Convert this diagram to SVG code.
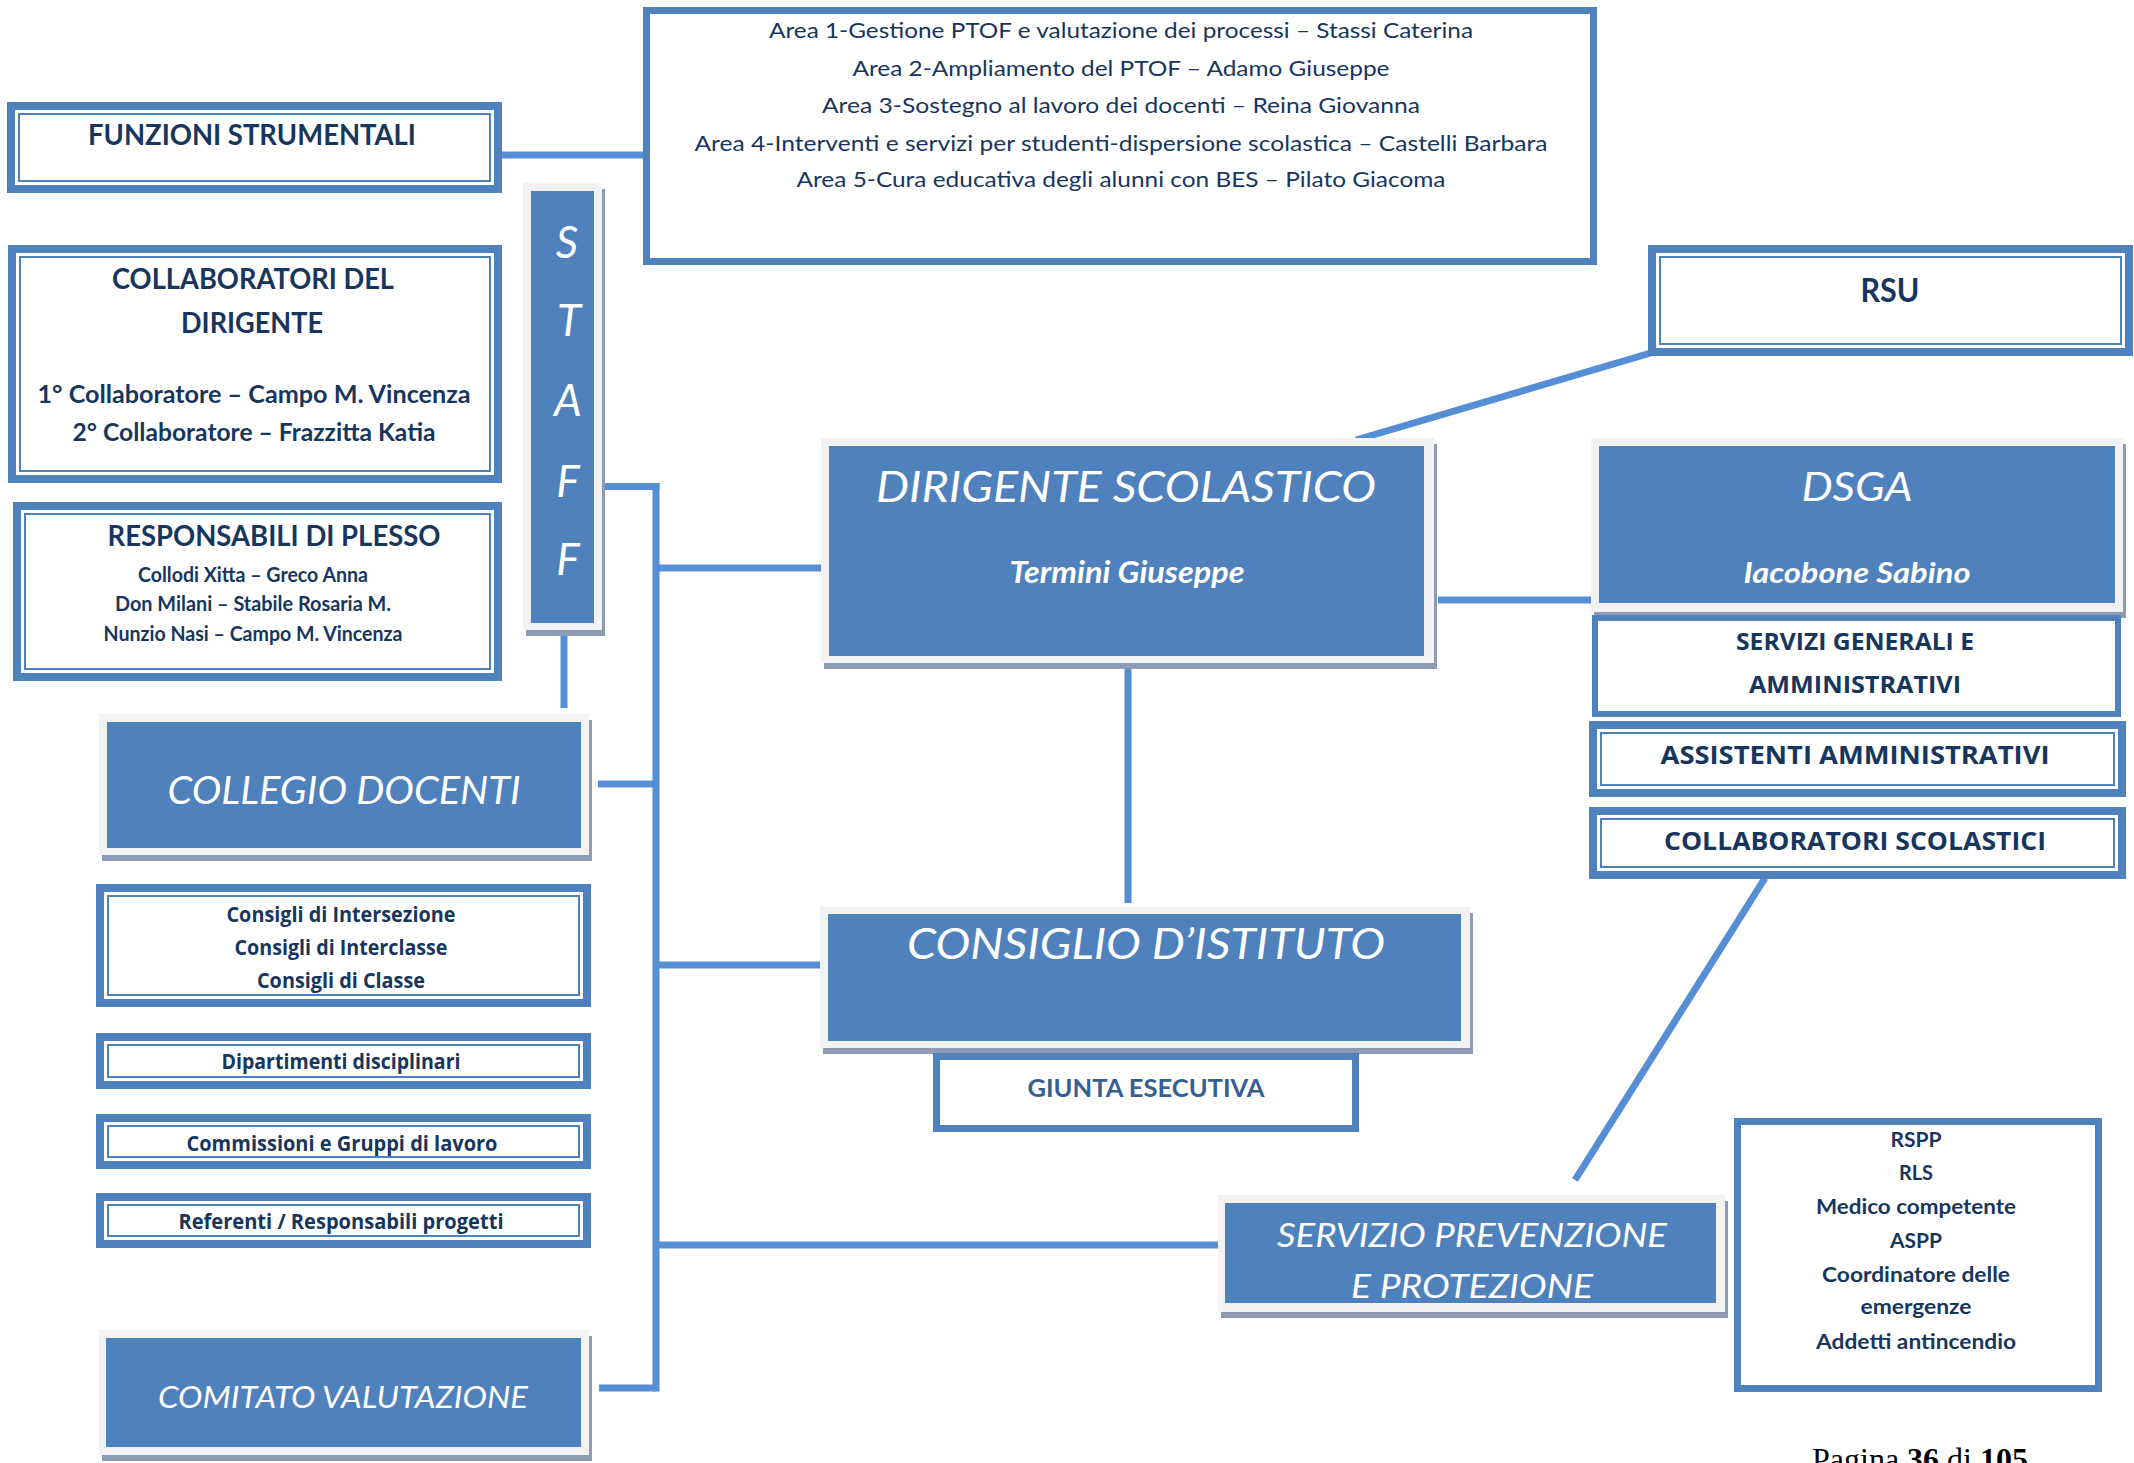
<svg xmlns="http://www.w3.org/2000/svg" width="2134" height="1463" viewBox="0 0 2134 1463">
<style>
.bg{fill:#ffffff}
.ln{stroke:#558ed5;stroke-width:7;fill:none}
.band{fill:#ffffff;stroke:#4f81bd;stroke-width:8}
.band6{fill:#ffffff;stroke:#4f81bd;stroke-width:7}
.thin{fill:none;stroke:#4f81bd;stroke-width:2}
.frame{fill:#f2f2f2}
.shadow{fill:#8d9cb3}
.blue{fill:#4f81bd}
.t{font-family:Lato,"Open Sans",sans-serif;fill:#17365d;text-anchor:middle}
.b{font-weight:bold}
.w{font-family:"Open Sans",Lato,sans-serif;font-weight:bold;fill:#17365d;text-anchor:middle}
.h{font-family:Lato,"DejaVu Sans",sans-serif;font-style:italic;fill:#ffffff;text-anchor:middle}
.bi{font-family:Lato,sans-serif;font-style:italic;font-weight:bold;fill:#ffffff;text-anchor:middle}
</style>
<rect class="bg" x="0" y="0" width="2134" height="1463"/>

<g id="connectors">
  <line class="ln" x1="500" y1="155" x2="646" y2="155"/>
  <line class="ln" x1="1356" y1="440" x2="1654" y2="352" stroke-width="6"/>
  <line class="ln" x1="600" y1="486.5" x2="659.5" y2="486.5"/>
  <line class="ln" x1="656" y1="483" x2="656" y2="1391.5"/>
  <line class="ln" x1="656" y1="568" x2="824" y2="568"/>
  <line class="ln" x1="564" y1="628" x2="564" y2="708"/>
  <line class="ln" x1="598" y1="784" x2="656" y2="784"/>
  <line class="ln" x1="656" y1="965" x2="825" y2="965"/>
  <line class="ln" x1="656" y1="1245" x2="1220" y2="1245"/>
  <line class="ln" x1="599" y1="1388" x2="656" y2="1388"/>
  <line class="ln" x1="1438" y1="600" x2="1594" y2="600"/>
  <line class="ln" x1="1128" y1="656" x2="1128" y2="903"/>
  <line class="ln" x1="1765" y1="878" x2="1575" y2="1180" stroke-width="6"/>
</g>

<g id="aree">
  <rect class="band6" x="646.5" y="10.5" width="947" height="251"/>
  <text class="t" font-size="21" x="1121" y="38" textLength="704" lengthAdjust="spacingAndGlyphs">Area 1-Gestione PTOF e valutazione dei processi – Stassi Caterina</text>
  <text class="t" font-size="21" x="1121" y="76" textLength="537" lengthAdjust="spacingAndGlyphs">Area 2-Ampliamento del PTOF – Adamo Giuseppe</text>
  <text class="t" font-size="21" x="1121" y="113" textLength="598" lengthAdjust="spacingAndGlyphs">Area 3-Sostegno al lavoro dei docenti – Reina Giovanna</text>
  <text class="t" font-size="21" x="1121" y="151" textLength="853" lengthAdjust="spacingAndGlyphs">Area 4-Interventi e servizi per studenti-dispersione scolastica – Castelli Barbara</text>
  <text class="t" font-size="21" x="1121" y="187" textLength="649" lengthAdjust="spacingAndGlyphs">Area 5-Cura educativa degli alunni con BES – Pilato Giacoma</text>
</g>

<g id="funzioni">
  <rect class="band" x="11" y="106" width="487" height="83"/>
  <rect class="thin" x="19" y="114" width="471" height="67"/>
  <text class="t b" font-size="28" x="252" y="145" textLength="328" lengthAdjust="spacingAndGlyphs">FUNZIONI STRUMENTALI</text>
</g>

<g id="collaboratori-dirigente">
  <rect class="band" x="12" y="249" width="486" height="230"/>
  <rect class="thin" x="20" y="257" width="470" height="214"/>
  <text class="t b" font-size="28" x="253" y="289" textLength="282" lengthAdjust="spacingAndGlyphs">COLLABORATORI DEL</text>
  <text class="t b" font-size="28" x="252" y="333" textLength="142" lengthAdjust="spacingAndGlyphs">DIRIGENTE</text>
  <text class="t b" font-size="25" x="254" y="403" textLength="433" lengthAdjust="spacingAndGlyphs">1° Collaboratore – Campo  M. Vincenza</text>
  <text class="t b" font-size="25" x="254" y="441" textLength="363" lengthAdjust="spacingAndGlyphs">2° Collaboratore – Frazzitta Katia</text>
</g>

<g id="responsabili-plesso">
  <rect class="band" x="17" y="506" width="481" height="171"/>
  <rect class="thin" x="25" y="514" width="465" height="155"/>
  <text class="t b" font-size="28" x="274" y="546" textLength="333" lengthAdjust="spacingAndGlyphs">RESPONSABILI DI PLESSO</text>
  <text class="t b" font-size="20" x="253" y="582" textLength="230" lengthAdjust="spacingAndGlyphs">Collodi Xitta – Greco Anna</text>
  <text class="t b" font-size="20" x="253" y="611" textLength="276" lengthAdjust="spacingAndGlyphs">Don Milani – Stabile Rosaria M.</text>
  <text class="t b" font-size="20" x="253" y="641" textLength="299" lengthAdjust="spacingAndGlyphs">Nunzio Nasi – Campo M. Vincenza</text>
</g>

<g id="staff">
  <rect class="shadow" x="526" y="189" width="79" height="447"/>
  <rect class="frame" x="523" y="183" width="79" height="447"/>
  <rect class="blue" x="531" y="191" width="63" height="432"/>
  <text class="h" font-size="44" x="567" y="258">S</text>
  <text class="h" font-size="44" x="569" y="336">T</text>
  <text class="h" font-size="44" x="568" y="416">A</text>
  <text class="h" font-size="44" x="568" y="497">F</text>
  <text class="h" font-size="44" x="568" y="575">F</text>
</g>

<g id="dirigente">
  <rect class="shadow" x="824" y="444" width="613" height="225"/>
  <rect class="frame" x="821" y="438" width="613" height="225"/>
  <rect class="blue" x="829" y="446" width="595" height="210"/>
  <text class="h" font-size="42" x="1126" y="502" textLength="500" lengthAdjust="spacingAndGlyphs">DIRIGENTE SCOLASTICO</text>
  <text class="bi" font-size="30" x="1127" y="583" textLength="235" lengthAdjust="spacingAndGlyphs">Termini Giuseppe</text>
</g>

<g id="rsu">
  <rect class="band" x="1652" y="249" width="477" height="103"/>
  <rect class="thin" x="1660" y="257" width="461" height="87"/>
  <text class="t b" font-size="32" x="1890" y="302" textLength="59" lengthAdjust="spacingAndGlyphs">RSU</text>
</g>

<g id="dsga">
  <rect class="shadow" x="1594" y="444" width="532" height="174"/>
  <rect class="frame" x="1591" y="438" width="532" height="174"/>
  <rect class="blue" x="1599" y="446" width="516" height="157"/>
  <text class="h" font-size="40" x="1857" y="501" textLength="111" lengthAdjust="spacingAndGlyphs">DSGA</text>
  <text class="bi" font-size="29" x="1857" y="583" textLength="227" lengthAdjust="spacingAndGlyphs">Iacobone Sabino</text>
</g>

<g id="servizi-generali">
  <rect x="1595" y="618" width="523" height="96" fill="#ffffff" stroke="#4f81bd" stroke-width="6"/>
  <text class="w" font-size="24" x="1855" y="650" textLength="238" lengthAdjust="spacingAndGlyphs">SERVIZI GENERALI E</text>
  <text class="w" font-size="24" x="1855" y="693" textLength="212" lengthAdjust="spacingAndGlyphs">AMMINISTRATIVI</text>
</g>

<g id="assistenti">
  <rect class="band" x="1593" y="725" width="529" height="68"/>
  <rect class="thin" x="1601" y="733" width="513" height="52"/>
  <text class="w" font-size="25" x="1855" y="764" textLength="389" lengthAdjust="spacingAndGlyphs">ASSISTENTI AMMINISTRATIVI</text>
</g>

<g id="collaboratori-scolastici">
  <rect class="band" x="1593" y="811" width="529" height="64"/>
  <rect class="thin" x="1601" y="819" width="513" height="48"/>
  <text class="w" font-size="25" x="1855" y="850" textLength="382" lengthAdjust="spacingAndGlyphs">COLLABORATORI SCOLASTICI</text>
</g>

<g id="collegio">
  <rect class="shadow" x="102" y="720" width="490" height="141"/>
  <rect class="frame" x="99" y="714" width="490" height="141"/>
  <rect class="blue" x="107" y="722" width="474" height="126"/>
  <text class="h" font-size="38" x="344" y="804" textLength="353" lengthAdjust="spacingAndGlyphs">COLLEGIO DOCENTI</text>
</g>

<g id="consigli">
  <rect class="band" x="100" y="888" width="487" height="115"/>
  <rect class="thin" x="108" y="896" width="471" height="99"/>
  <text class="w" font-size="21" x="341" y="922" textLength="229" lengthAdjust="spacingAndGlyphs">Consigli di Intersezione</text>
  <text class="w" font-size="21" x="341" y="955" textLength="213" lengthAdjust="spacingAndGlyphs">Consigli di Interclasse</text>
  <text class="w" font-size="21" x="341" y="988" textLength="168" lengthAdjust="spacingAndGlyphs">Consigli di Classe</text>
</g>

<g id="dipartimenti">
  <rect class="band" x="100" y="1037" width="487" height="48"/>
  <rect class="thin" x="108" y="1045" width="471" height="32"/>
  <text class="w" font-size="21" x="341" y="1069" textLength="239" lengthAdjust="spacingAndGlyphs">Dipartimenti disciplinari</text>
</g>

<g id="commissioni">
  <rect class="band" x="100" y="1118" width="487" height="47"/>
  <rect class="thin" x="108" y="1126" width="471" height="31"/>
  <text class="w" font-size="21" x="342" y="1151" textLength="311" lengthAdjust="spacingAndGlyphs">Commissioni e Gruppi di lavoro</text>
</g>

<g id="referenti">
  <rect class="band" x="100" y="1197" width="487" height="47"/>
  <rect class="thin" x="108" y="1205" width="471" height="31"/>
  <text class="w" font-size="21" x="341" y="1229" textLength="325" lengthAdjust="spacingAndGlyphs">Referenti / Responsabili progetti</text>
</g>

<g id="comitato">
  <rect class="shadow" x="102" y="1336" width="490" height="125"/>
  <rect class="frame" x="99" y="1330" width="490" height="125"/>
  <rect class="blue" x="106" y="1338" width="475" height="109"/>
  <text class="h" font-size="30" x="343" y="1408" textLength="370" lengthAdjust="spacingAndGlyphs">COMITATO VALUTAZIONE</text>
</g>

<g id="consiglio-istituto">
  <rect class="shadow" x="823" y="913" width="650" height="141"/>
  <rect class="frame" x="820" y="907" width="650" height="141"/>
  <rect class="blue" x="828" y="914" width="633" height="127"/>
  <text class="h" font-size="43" x="1146" y="959" textLength="478" lengthAdjust="spacingAndGlyphs">CONSIGLIO D’ISTITUTO</text>
</g>

<g id="giunta">
  <rect x="936.5" y="1056.5" width="419" height="72" fill="#ffffff" stroke="#4f81bd" stroke-width="7"/>
  <text class="t b" font-size="25" x="1146" y="1097" fill="#365f91" style="fill:#365f91" textLength="237" lengthAdjust="spacingAndGlyphs">GIUNTA ESECUTIVA</text>
</g>

<g id="servizio-prevenzione">
  <rect class="shadow" x="1221" y="1201" width="507" height="117"/>
  <rect class="frame" x="1218" y="1195" width="507" height="117"/>
  <rect class="blue" x="1225" y="1203" width="491" height="100"/>
  <text class="h" font-size="33" x="1472" y="1247" textLength="390" lengthAdjust="spacingAndGlyphs">SERVIZIO PREVENZIONE</text>
  <text class="h" font-size="33" x="1472" y="1298" textLength="242" lengthAdjust="spacingAndGlyphs">E PROTEZIONE</text>
</g>

<g id="sicurezza">
  <rect x="1737.5" y="1121.5" width="361" height="267" fill="#ffffff" stroke="#4f81bd" stroke-width="7"/>
  <text class="t b" font-size="20" x="1916" y="1147" textLength="51" lengthAdjust="spacingAndGlyphs">RSPP</text>
  <text class="t b" font-size="20" x="1916" y="1180" textLength="34" lengthAdjust="spacingAndGlyphs">RLS</text>
  <text class="t b" font-size="20" x="1916" y="1214" textLength="200" lengthAdjust="spacingAndGlyphs">Medico competente</text>
  <text class="t b" font-size="20" x="1916" y="1248" textLength="52" lengthAdjust="spacingAndGlyphs">ASPP</text>
  <text class="t b" font-size="20" x="1916" y="1282" textLength="188" lengthAdjust="spacingAndGlyphs">Coordinatore delle</text>
  <text class="t b" font-size="20" x="1916" y="1314" textLength="111" lengthAdjust="spacingAndGlyphs">emergenze</text>
  <text class="t b" font-size="20" x="1916" y="1349" textLength="200" lengthAdjust="spacingAndGlyphs">Addetti antincendio</text>
</g>

<text x="1812" y="1470" font-family="'Liberation Serif',serif" font-size="32" fill="#000000">Pagina <tspan font-weight="bold">36</tspan> di <tspan font-weight="bold">105</tspan></text>
</svg>
